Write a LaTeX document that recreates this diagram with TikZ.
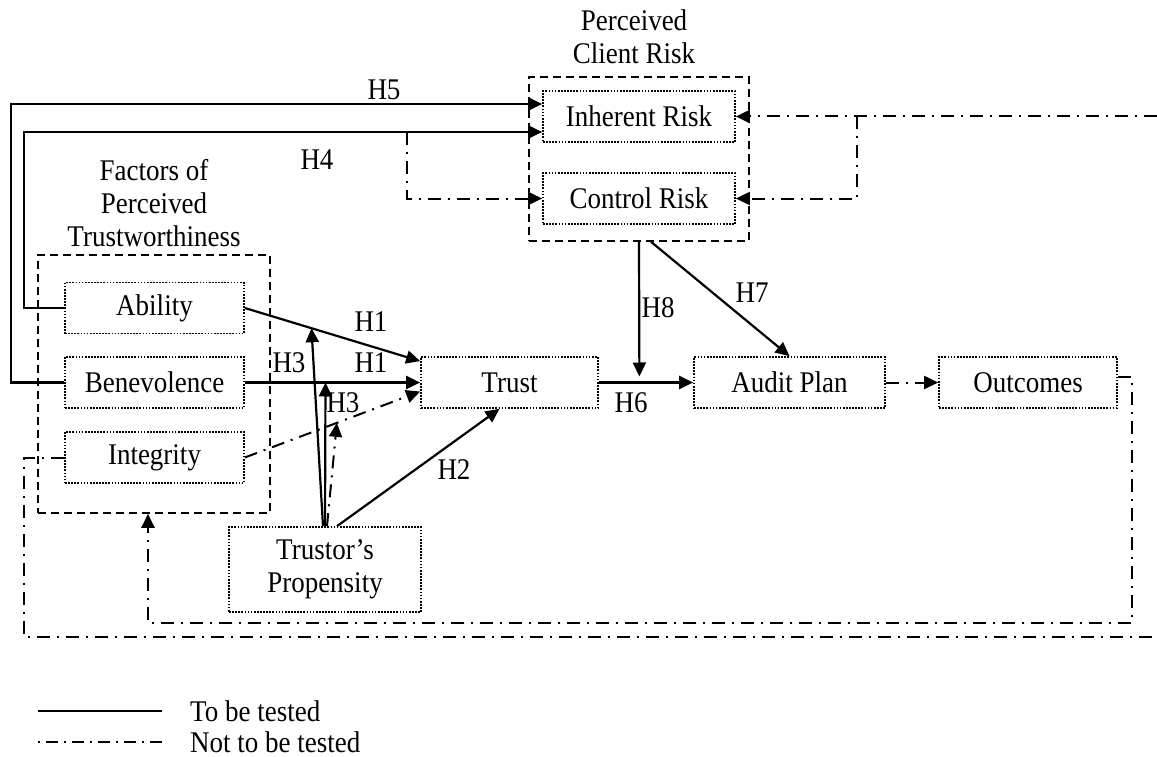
\documentclass[tikz,border=0pt]{standalone}
\usepackage{fontspec}
\setmainfont[FakeStretch=0.9]{Liberation Serif}
\usetikzlibrary{arrows.meta}

\tikzset{
  box/.style={draw, line width=1.7pt, dash pattern=on 1.7pt off 1.4pt, inner sep=0pt, minimum height=51},
  group/.style={draw, line width=1.6pt, dash pattern=on 8pt off 5pt, inner sep=0pt},
  tested/.style={line width=2.2pt, -{Triangle[length=14pt,width=13pt]}},
  untested/.style={line width=2pt, dash pattern=on 13pt off 7pt on 2pt off 7pt, -{Triangle[length=14pt,width=13pt]}},
}

\begin{document}
\begin{tikzpicture}[x=1pt, y=-1pt, font=\fontsize{30}{33}\selectfont]
  \useasboundingbox (0,0) rectangle (1157,757);

  % Groups
  \node[group, minimum width=220, minimum height=164] (risk) at (639,159) {};
  \node[group, minimum width=232, minimum height=258] (fac) at (154,384) {};
  \node[align=center] (risklbl) at (634,37) {Perceived\\Client Risk};
  \node[align=center] (faclbl) at (154,203) {Factors of\\Perceived\\Trustworthiness};

  % Boxes
  \node[box, minimum width=192] (inh) at (639,116.5) {Inherent Risk};
  \node[box, minimum width=192] (con) at (639,198.5) {Control Risk};
  \node[box, minimum width=179] (abi) at (154.5,308) {Ability};
  \node[box, minimum width=179] (ben) at (154.5,382.5) {Benevolence};
  \node[box, minimum width=179] (int) at (154.5,457.5) {Integrity};
  \node[box, minimum width=177] (tr) at (509.5,382.5) {Trust};
  \node[box, minimum width=191] (aud) at (789.5,382.5) {Audit Plan};
  \node[box, minimum width=178] (out) at (1028,382.5) {Outcomes};
  \node[box, minimum width=192, minimum height=85, align=center] (pro) at (325,569.5) {Trustor's\\Propensity};

  % Free ends
  \coordinate (h4b) at (407,132);
  \coordinate (rtop) at (1157,116.5);
  \coordinate (rb) at (857,116.5);
  \coordinate (rbot) at (1157,637);

  % Tested paths
  \draw[tested] (ben.west) -- ++(-53,0) |- ([yshift=12.5pt]inh.west);
  \draw[tested] (abi.west) -- ++(-40,0) |- ([yshift=-15.5pt]inh.west);
  \draw[tested] (abi.east) -- coordinate[pos=0.38] (m1) ([yshift=-5pt]tr.north west);
  \draw[tested] (ben.east) -- coordinate[pos=0.46] (m2) (tr.west);
  \draw[tested] ([xshift=-2pt]pro.north) -- (m1);
  \draw[tested] (pro.north) -- (m2);
  \draw[tested] ([xshift=12pt]pro.north) -- ([xshift=-10pt]tr.south);
  \draw[tested] (tr.east) -- coordinate[pos=0.43] (h6m) (aud.west);
  \draw[tested] (risk.south) -- ([yshift=6pt]h6m);
  \draw[tested] ([xshift=12pt]risk.south) -- (aud.north);

  % Untested paths
  \draw[untested] (int.east) -- coordinate[pos=0.525] (m3) ([yshift=-9pt]tr.west);
  \draw[untested] ([xshift=2pt]pro.north) -- (m3);
  \draw[untested] (h4b) |- (con.west);
  \draw[untested] (rtop) -- (inh.east);
  \draw[untested] (rb) |- (con.east);
  \draw[untested] (aud.east) -- (out.west);
  \draw[untested] ([yshift=5.5pt]out.east) -- ++(14,0) -- ++(0,246) -| ([xshift=-6pt]fac.south);
  \draw[untested, -] (int.west) -- ++(-40,0) |- (rbot);

  % Hypotheses
  \node (h5) at (384,90) {H5};
  \node (h4) at (317,160) {H4};
  \node (h1a) at (371,322) {H1};
  \node (h1b) at (371,363) {H1};
  \node (h3a) at (289,363) {H3};
  \node (h3b) at (343,403) {H3};
  \node (h2) at (454,470) {H2};
  \node (h6) at (631,403) {H6};
  \node (h8) at (658,308) {H8};
  \node (h7) at (752,293) {H7};

  % Legend
  \node[right, inner sep=0pt] (lt) at (190,711) {To be tested};
  \node[right, inner sep=0pt] (ln) at (190,742) {Not to be tested};
  \draw[line width=2pt] ([xshift=-28pt]lt.west) -- ++(-124,0);
  \draw[line width=1.8pt, dash pattern=on 12pt off 6pt on 2pt off 6pt] ([xshift=-28pt]ln.west) -- ++(-124,0);

\end{tikzpicture}
\end{document}
